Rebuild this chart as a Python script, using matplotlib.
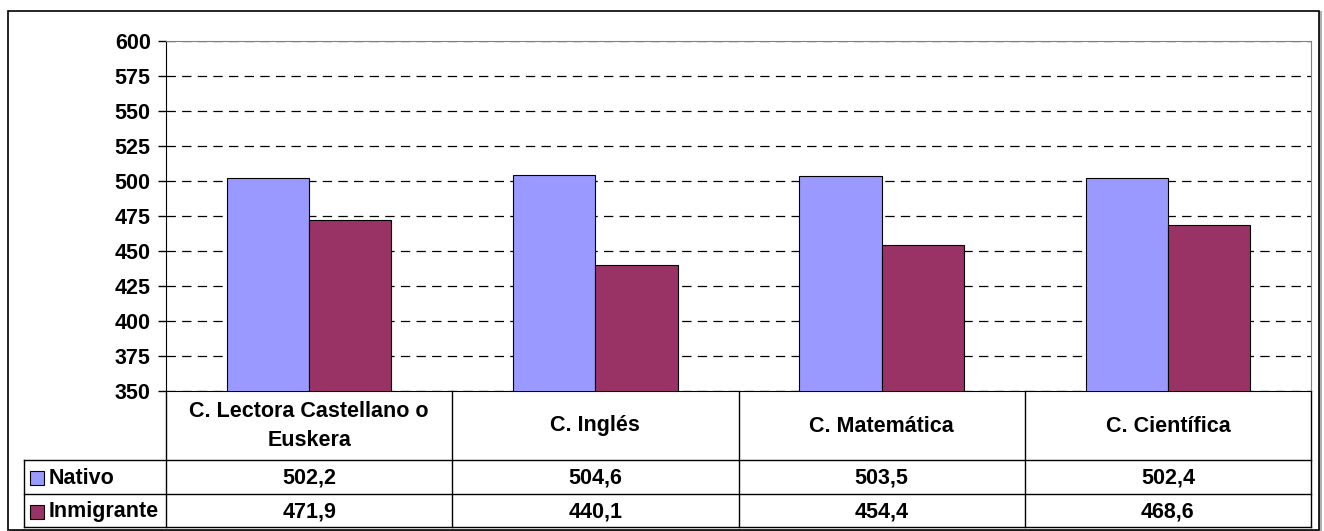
import numpy as np
import matplotlib
matplotlib.use('Agg')
import matplotlib.pyplot as plt
from matplotlib.patches import Rectangle
from matplotlib.lines import Line2D

plt.rcParams['font.family'] = ['Liberation Sans', 'DejaVu Sans']

# datos
categorias = ['C. Lectora Castellano o\nEuskera', 'C. Inglés', 'C. Matemática', 'C. Científica']
nativo = [502.2, 504.6, 503.5, 502.4]
inmigrante = [471.9, 440.1, 454.4, 468.6]
series = ['Nativo', 'Inmigrante']
colores = ['#9999FF', '#993366']
ticks_y = np.arange(350, 601, 25)

W, H = 1324, 531
fs = 15.5
fig = plt.figure(figsize=(W / 100, H / 100), dpi=100)

# marco exterior con sombra
fig.patches.append(Rectangle((11 / W, 1 - 533 / H), 1311 / W, 522 / H, transform=fig.transFigure,
                             facecolor='#b0b0b0', edgecolor='none', zorder=-2))
fig.patches.append(Rectangle((8 / W, 1 - 530 / H), 1311 / W, 519 / H, transform=fig.transFigure,
                             facecolor='white', edgecolor='black', linewidth=1.2, zorder=-1))

x0, x1, y0, y1 = 166, 1311, 41, 391
ax = fig.add_axes([x0 / W, 1 - y1 / H, (x1 - x0) / W, (y1 - y0) / H])
ax.set_zorder(2)

x = np.arange(len(categorias))
ancho = 0.287
ax.bar(x - ancho / 2, nativo, ancho, color=colores[0], edgecolor='black', linewidth=0.8, zorder=3)
ax.bar(x + ancho / 2, inmigrante, ancho, color=colores[1], edgecolor='black', linewidth=0.8, zorder=3)

ax.set_xlim(-0.5, len(categorias) - 0.5)
ax.set_ylim(350, 600)
ax.set_yticks(ticks_y, labels=[str(t) for t in ticks_y], fontweight='bold', fontsize=fs)
ax.tick_params(axis='y', length=6, width=1, pad=5)
ax.set_xticks([])
ax.yaxis.grid(True, linestyle=(0, (7.5, 5)), color='black', linewidth=0.9, zorder=1)
ax.spines['top'].set_color('#808080')
ax.spines['right'].set_color('#808080')
ax.spines['left'].set_color('black')
ax.spines['bottom'].set_color('black')

# tabla de datos bajo el eje
def fila(yp):
    return -(yp - y1) / (y1 - y0)

izq = (24 - x0) / (x1 - x0)
tr = ax.transAxes
kw = dict(transform=tr, color='black', linewidth=1, clip_on=False)
for yp in [460, 494, 527]:
    ax.add_line(Line2D([izq, 1], [fila(yp), fila(yp)], **kw))
ax.add_line(Line2D([izq, izq], [fila(460), fila(527)], **kw))
for i in range(len(categorias) + 1):
    xf = i / len(categorias)
    ax.add_line(Line2D([xf, xf], [0, fila(527)], **kw))

tfont = dict(fontsize=fs, fontweight='bold', ha='center', va='center', transform=tr)
for i, cat in enumerate(categorias):
    xc = (i + 0.5) / len(categorias)
    ax.text(xc, fila(426), cat, linespacing=1.45, **tfont)
    ax.text(xc, fila(478), f'{nativo[i]:.1f}'.replace('.', ','), **tfont)
    ax.text(xc, fila(512), f'{inmigrante[i]:.1f}'.replace('.', ','), **tfont)

for j, (nombre, yp) in enumerate(zip(series, [478, 512])):
    xs = (30 - x0) / (x1 - x0)
    ax.add_patch(Rectangle((xs, fila(yp + 7)), 14 / (x1 - x0), 14 / (y1 - y0), transform=tr,
                           facecolor=colores[j], edgecolor='black', linewidth=0.8, clip_on=False))
    ax.text((49 - x0) / (x1 - x0), fila(yp), nombre, fontsize=fs, fontweight='bold',
            ha='left', va='center', transform=tr)

fig.savefig('out.png', dpi=100)
